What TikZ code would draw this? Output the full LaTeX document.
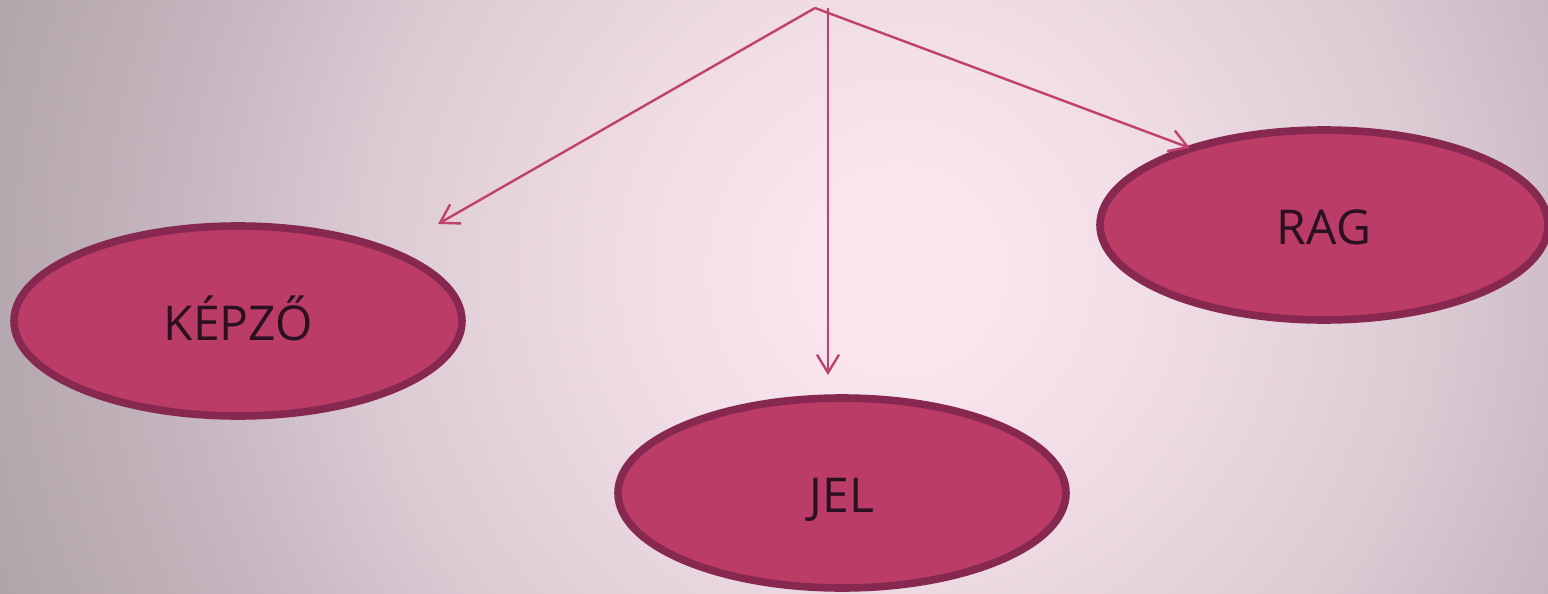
\documentclass[tikz,border=0pt]{standalone}
\usepackage{fontspec}
\setmainfont{Open Sans}
\usetikzlibrary{shapes.geometric,arrows.meta}
\definecolor{bg0}{HTML}{F9E6EE}
\definecolor{bg1}{HTML}{F0DDE6}
\definecolor{bg2}{HTML}{DDCBD4}
\definecolor{bg3}{HTML}{C8B8C1}
\definecolor{bg4}{HTML}{B6A8AF}
\definecolor{bg5}{HTML}{ACA0A7}
\definecolor{ellfill}{HTML}{BA3C67}
\definecolor{elldraw}{HTML}{86284F}
\definecolor{arr}{HTML}{C0406E}
\definecolor{txt}{HTML}{2A1020}
\pgfdeclareradialshading{bgshade}{\pgfpoint{0bp}{0bp}}{color(0bp)=(bg0); color(2bp)=(bg0); color(6.5bp)=(bg1); color(13.25bp)=(bg2); color(17.5bp)=(bg3); color(22.5bp)=(bg4); color(25bp)=(bg5); color(50bp)=(bg5)}
\tikzset{
  oval/.style={ellipse, draw=elldraw, line width=3.8pt, fill=ellfill, minimum width=224pt, minimum height=95pt, inner sep=0pt, text=txt, font=\fontsize{24}{28}\selectfont, text height=19.5pt, text depth=0pt},
  conn/.style={draw=arr, line width=1.2pt, -{Straight Barb[length=9pt,width=11pt]}}
}
\begin{document}
\begin{tikzpicture}[x=0.5pt,y=-0.5pt]
\useasboundingbox (0,0) rectangle (1548,594);
\begin{scope}
\clip (0,0) rectangle (1548,594);
\shade[shading=bgshade] (900,270) circle [radius=1000];
\end{scope}
\node[oval] (kepzo) at (238,321) {KÉPZŐ};
\node[oval] (jel) at (842,493) {JEL};
\node[oval] (rag) at (1324,225) {RAG};
\coordinate (apex) at (815,8);
\coordinate (vtop) at (828,8);
\coordinate (lend) at (438,224);
\coordinate (vend) at (828,375);
\coordinate (rend) at (1190,148);
\draw[conn] (apex) -- (lend);
\draw[conn] (vtop) -- (vend);
\draw[conn] (apex) -- (rend);
\end{tikzpicture}
\end{document}
